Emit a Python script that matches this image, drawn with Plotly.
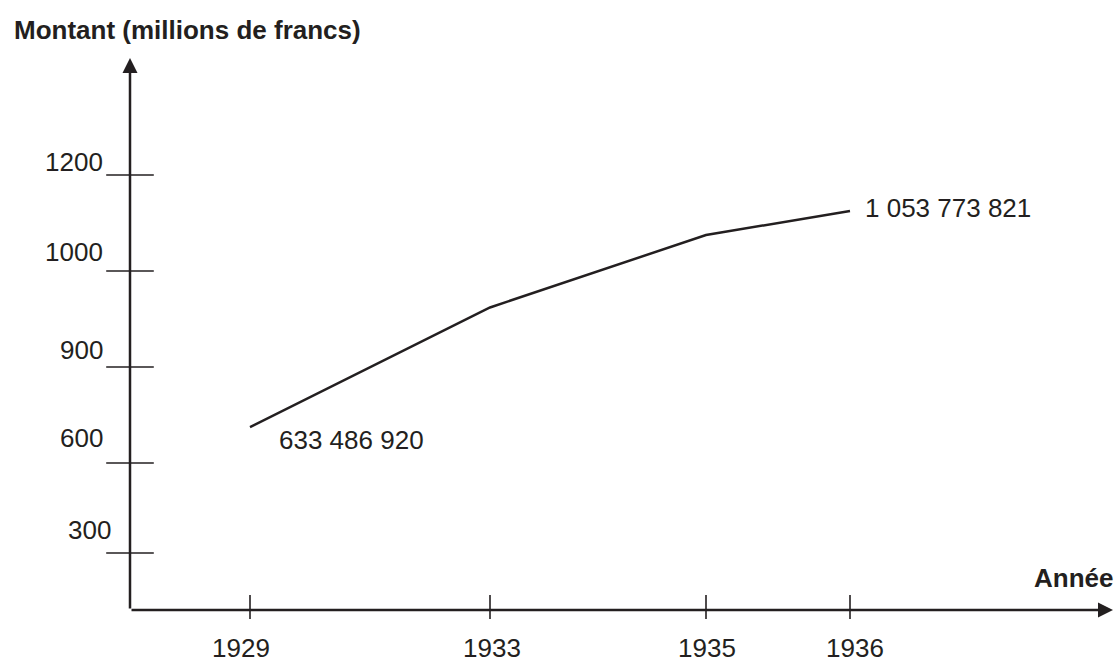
import numpy as np
import plotly.graph_objects as go

# ---------------- data ----------------
annees = [1929, 1933, 1935, 1936]
# amounts as they sit on the drawn (schematic) vertical scale
montant = [712, 962, 1075, 1125]
y_ticks = [300, 600, 900, 1000, 1200]
x_ticks = [1929, 1933, 1935, 1936]
point_labels = ["633 486 920", "", "", "1 053 773 821"]
titre_y = "Montant (millions de francs)"
titre_x = "Année"

# ---------------- layout geometry (schematic axes, px-like units from origin) ----------------
X_TICK_POS = [120, 360, 576, 720]
Y_TICK_POS = [57, 147, 243, 339, 435]
Y_LABEL_POS = [80, 172, 260, 358, 448]
Y_LABEL_RIGHT = [-17, -25, -25, -25, -25]
X_LABEL_POS = [111, 362, 577, 725]
X_END, Y_END = 983, 552
INK = "#231f20"
FONT = "Liberation Sans, Arial, sans-serif"
FS = 26

xs = np.interp(annees, x_ticks, X_TICK_POS)
ys = np.interp(montant, y_ticks, Y_TICK_POS)

fig = go.Figure()

# data line
fig.add_trace(go.Scatter(x=xs, y=ys, mode="lines",
                         line=dict(color=INK, width=2.5), hoverinfo="skip"))

# y ticks (crossing the axis)
fig.add_trace(go.Scatter(x=[0] * len(Y_TICK_POS), y=Y_TICK_POS, mode="markers",
                         marker=dict(symbol="line-ew", size=34,
                                     line=dict(color=INK, width=1.6)),
                         hoverinfo="skip"))
# x ticks
fig.add_trace(go.Scatter(x=X_TICK_POS, y=[3] * len(X_TICK_POS), mode="markers",
                         marker=dict(symbol="line-ns", size=17,
                                     line=dict(color=INK, width=1.6)),
                         hoverinfo="skip"))

ann = []
# axes with arrowheads
ann.append(dict(x=X_END, y=0, ax=0, ay=0, xref="x", yref="y", axref="x", ayref="y",
                text="", showarrow=True, arrowhead=2, arrowsize=1.2, arrowwidth=2.5,
                arrowcolor=INK))
ann.append(dict(x=0, y=Y_END, ax=0, ay=0, xref="x", yref="y", axref="x", ayref="y",
                text="", showarrow=True, arrowhead=2, arrowsize=1.2, arrowwidth=2.5,
                arrowcolor=INK))

# y tick labels
for v, p, r in zip(y_ticks, Y_LABEL_POS, Y_LABEL_RIGHT):
    ann.append(dict(x=r, y=p, xref="x", yref="y", text=str(v), showarrow=False,
                    xanchor="right", yanchor="middle",
                    font=dict(family=FONT, size=FS, color=INK)))
# x tick labels
for v, p in zip(x_ticks, X_LABEL_POS):
    ann.append(dict(x=p, y=-38, xref="x", yref="y", text=str(v), showarrow=False,
                    xanchor="center", yanchor="middle",
                    font=dict(family=FONT, size=FS, color=INK)))

# point value labels
ann.append(dict(x=xs[0] + 27, y=ys[0] - 13, xref="x", yref="y", text=point_labels[0],
                showarrow=False, xanchor="left", yanchor="middle",
                font=dict(family=FONT, size=FS, color=INK)))
ann.append(dict(x=xs[-1] + 13, y=ys[-1] + 3, xref="x", yref="y", text=point_labels[-1],
                showarrow=False, xanchor="left", yanchor="middle",
                font=dict(family=FONT, size=FS, color=INK)))

# axis titles
ann.append(dict(x=-118, y=580, xref="x", yref="y", text="<b>" + titre_y + "</b>",
                showarrow=False, xanchor="left", yanchor="middle",
                font=dict(family=FONT, size=FS, color=INK)))
ann.append(dict(x=985, y=32, xref="x", yref="y", text="<b>" + titre_x + "</b>",
                showarrow=False, xanchor="right", yanchor="middle",
                font=dict(family=FONT, size=FS, color=INK)))

fig.update_layout(
    width=1119, height=663,
    margin=dict(l=0, r=0, t=0, b=0),
    paper_bgcolor="white", plot_bgcolor="white",
    showlegend=False,
    xaxis=dict(range=[-130, 989], visible=False, fixedrange=True),
    yaxis=dict(range=[-53, 610], visible=False, fixedrange=True),
    annotations=ann,
)

fig.write_html(
    "out.html",
    config={"displayModeBar": False},
    post_script="document.body.style.margin='0';document.body.style.overflow='hidden';"
                "document.documentElement.style.overflow='hidden';",
)
